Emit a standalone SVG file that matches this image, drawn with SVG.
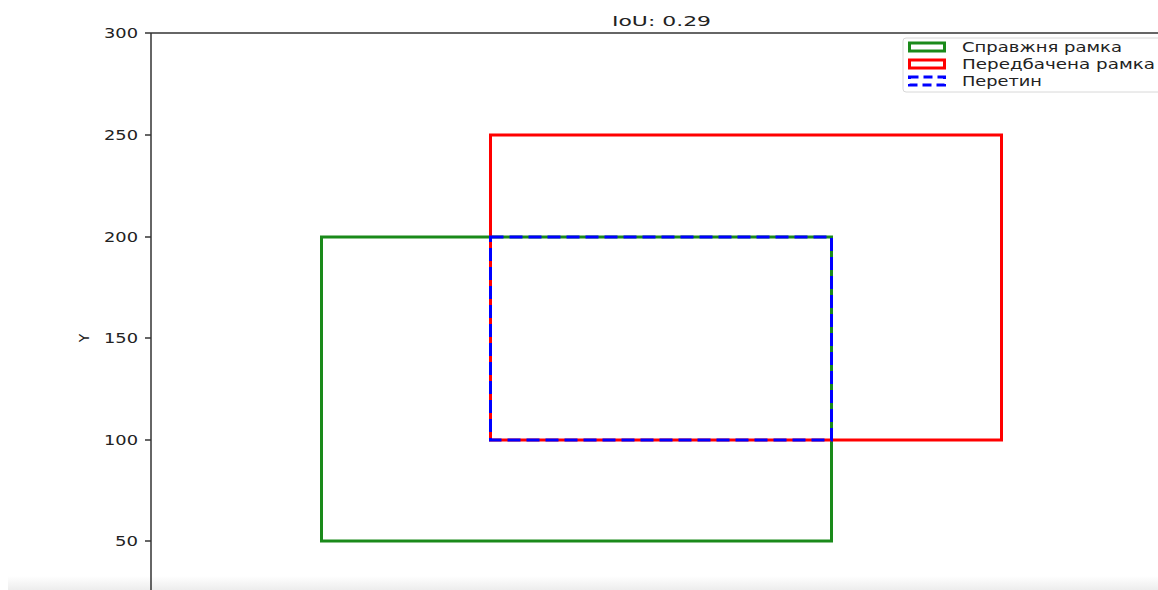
<svg xmlns="http://www.w3.org/2000/svg" width="1158" height="590" viewBox="0 0 1158 590">
<defs>
<linearGradient id="fade" x1="0" y1="0" x2="0" y2="1">
<stop offset="0" stop-color="#ffffff"/>
<stop offset="1" stop-color="#ededed"/>
</linearGradient>
</defs>
<style>
.t{font-family:"DejaVu Sans",sans-serif;font-size:14px;fill:#222}
.ax{stroke:#333;stroke-width:1.5;fill:none}
.box{fill:none;stroke-width:3}
</style>
<rect width="1158" height="590" fill="#fff"/>
<rect x="8" y="576" width="1150" height="14" fill="url(#fade)"/>
<g id="axes">
<line class="ax" x1="151" y1="33" x2="151" y2="590"/>
<line class="ax" x1="151" y1="33" x2="1158" y2="33"/>
<g class="ax">
<line x1="145" y1="33" x2="151" y2="33"/>
<line x1="145" y1="135" x2="151" y2="135"/>
<line x1="145" y1="237" x2="151" y2="237"/>
<line x1="145" y1="338" x2="151" y2="338"/>
<line x1="145" y1="440" x2="151" y2="440"/>
<line x1="145" y1="541" x2="151" y2="541"/>
</g>
<g class="t">
<text x="104" y="38" textLength="34" lengthAdjust="spacingAndGlyphs">300</text>
<text x="104" y="140" textLength="34" lengthAdjust="spacingAndGlyphs">250</text>
<text x="104" y="242" textLength="34" lengthAdjust="spacingAndGlyphs">200</text>
<text x="104" y="343" textLength="34" lengthAdjust="spacingAndGlyphs">150</text>
<text x="104" y="445" textLength="34" lengthAdjust="spacingAndGlyphs">100</text>
<text x="115" y="546" textLength="23" lengthAdjust="spacingAndGlyphs">50</text>
<text transform="translate(89,338) rotate(-90)" text-anchor="middle">Y</text>
<text x="612" y="26" textLength="99" lengthAdjust="spacingAndGlyphs">IoU: 0.29</text>
</g>
</g>
<g id="true-box"><rect class="box" x="321.5" y="237" width="510" height="304" stroke="#1a8a1a"/></g>
<g id="pred-box"><rect class="box" x="490.5" y="135" width="511" height="305" stroke="#ff0000"/></g>
<g id="intersection"><rect class="box" x="490.5" y="237" width="341" height="203" stroke="#0000ff" stroke-dasharray="13,6"/></g>
<g id="legend">
<rect x="903" y="38" width="260" height="54" rx="3" fill="#fff" stroke="#d8d8d8" stroke-width="1"/>
<rect x="909.5" y="43" width="35" height="8" fill="none" stroke="#1a8a1a" stroke-width="3"/>
<rect x="909.5" y="60" width="35" height="8" fill="none" stroke="#ff0000" stroke-width="3"/>
<rect x="909.5" y="77" width="35" height="8" fill="none" stroke="#0000ff" stroke-width="3" stroke-dasharray="9,5"/>
<g class="t">
<text x="962" y="52" textLength="160" lengthAdjust="spacingAndGlyphs">Справжня рамка</text>
<text x="962" y="69" textLength="193" lengthAdjust="spacingAndGlyphs">Передбачена рамка</text>
<text x="962" y="86" textLength="80" lengthAdjust="spacingAndGlyphs">Перетин</text>
</g>
</g>
</svg>
